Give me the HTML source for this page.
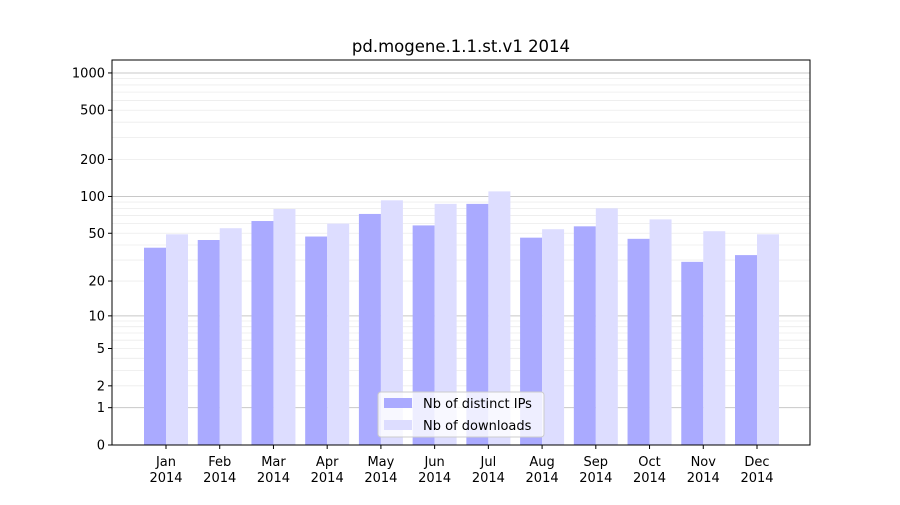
<!DOCTYPE html>
<html><head><meta charset="utf-8"><style>body{margin:0;background:#fff}svg{font-family:"DejaVu Sans","Liberation Sans",sans-serif}</style></head>
<body>
<svg id="c" width="900" height="500"></svg>
<script>
const months=["Jan","Feb","Mar","Apr","May","Jun","Jul","Aug","Sep","Oct","Nov","Dec"];
const ips=[38,44,63,47,72,58,87,46,57,45,29,33];
const downloads=[49,55,79,60,93,87,110,54,80,65,52,49];
const tickVals=[0,1,2,5,10,20,50,100,200,500,1000];
const tickLabels=["0","1","2","5","10","20","50","100","200","500","1000"];
const NS="http://www.w3.org/2000/svg";
const svg=document.getElementById('c');
const L=112,R=810,T=60,B=445;
const y=v=>B-124*Math.log10(1+v);
const x0=166,step=(757-166)/11,bw=22;
const xc=i=>x0+i*step;
function el(t,a,p){const e=document.createElementNS(NS,t);for(const k in a)e.setAttribute(k,a[k]);(p||svg).appendChild(e);return e;}
const g=el('g',{});


for(let d=0;d<=3;d++){for(let m=1;m<10;m++){const v=m*Math.pow(10,d);if(v>1100)break;const yy=y(v);
 el('line',{x1:L,x2:R,y1:yy,y2:yy,stroke:m==1?'#c8c8c8':'#ececec','stroke-width':m==1?1:0.8},g);}}
months.forEach((m,i)=>{
 const a=el('rect',{x:xc(i)-bw,y:y(ips[i]),width:bw,height:B-y(ips[i]),fill:'#aaaaff'});
 
 
 const b=el('rect',{x:xc(i),y:y(downloads[i]),width:bw,height:B-y(downloads[i]),fill:'#ddddff'});
 
 
 el('line',{x1:xc(i),x2:xc(i),y1:B,y2:B+4,stroke:'#000'});
 const t=el('text',{x:xc(i),y:B+21,'font-size':13,'text-anchor':'middle'});t.textContent=m;
 
 
 const t2=el('text',{x:xc(i),y:B+37,'font-size':13,'text-anchor':'middle'});t2.textContent='2014';
 
 
});
tickVals.forEach((v,i)=>{const yy=y(v);
 el('line',{x1:L-4,x2:L,y1:yy,y2:yy,stroke:'#000'});
 const t=el('text',{x:L-7,y:yy+4.5,'font-size':13,'text-anchor':'end'});t.textContent=tickLabels[i];
 
 
});
const f=el('rect',{x:L,y:T,width:R-L,height:B-T,fill:'none',stroke:'#000','stroke-width':1});


const ti=el('text',{x:(L+R)/2,y:52,'font-size':16.5,'text-anchor':'middle'});ti.textContent='pd.mogene.1.1.st.v1 2014';


const lg=el('g',{});


el('rect',{x:378,y:392,width:166,height:45,fill:'#fff','fill-opacity':0.8,stroke:'#ccc',rx:3},lg);
el('rect',{x:384,y:398,width:28,height:10,fill:'#aaaaff'},lg);
el('rect',{x:384,y:420,width:28,height:10,fill:'#ddddff'},lg);
const l1=el('text',{x:423,y:408,'font-size':13},lg);l1.textContent='Nb of distinct IPs';


const l2=el('text',{x:423,y:430,'font-size':13},lg);l2.textContent='Nb of downloads';


</script>
</body></html>
